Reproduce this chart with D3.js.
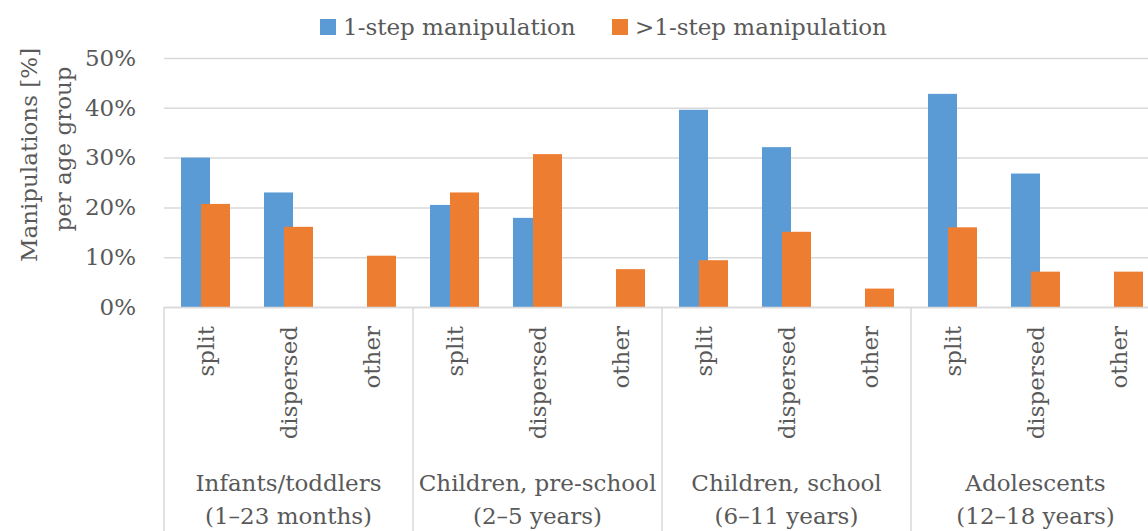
<!DOCTYPE html>
<html>
<head>
<meta charset="utf-8">
<script src="https://cdn.jsdelivr.net/npm/d3@7"></script>
<style>
  html, body { margin: 0; padding: 0; background: #fff; }
  svg { display: block; }
  text { font-family: "DejaVu Serif", "Liberation Serif", serif; fill: #595959; }
</style>
</head>
<body>
<svg id="chart" width="1148" height="531"></svg>
<script>
// ---- data ----
const groupLine1 = ["Infants/toddlers", "Children, pre-school", "Children, school", "Adolescents"];
const groupLine2 = ["(1–23 months)", "(2–5 years)", "(6–11 years)", "(12–18 years)"];
const subcats = ["split", "dispersed", "other"];
const seriesNames = ["1-step manipulation", ">1-step manipulation"];
// values in %, order: group x subcat
const oneStep   = [30.0, 23.0, 0,   20.5, 17.9, 0,   39.6, 32.1, 0,   42.8, 26.8, 0];
const multiStep = [20.7, 16.1, 10.3, 23.0, 30.7, 7.6, 9.4, 15.1, 3.7, 16.0, 7.1, 7.1];
const yTicks = [0, 10, 20, 30, 40, 50];

(function () {
// ---- layout ----
const svg = d3.select("#chart");
const plotLeft = 164, plotTop = 58, plotBottom = 307;
const groupW = 249;
const colors = ["#5B9BD5", "#ED7D31"];
const fs = 23;

const y = d3.scaleLinear().domain([0, 50]).range([plotBottom, plotTop]);
const xg = d3.scaleBand().domain(d3.range(groupLine1.length)).range([plotLeft, plotLeft + groupW * groupLine1.length]).padding(0);
const xs = d3.scaleBand().domain(subcats).range([0, groupW]).padding(0);
const barW = 29, overlap = 9;

// gridlines
const yAxis = d3.axisLeft(y).tickValues(yTicks).tickFormat(d => d + "%").tickSize(-(1148 - plotLeft)).tickPadding(28);
const ga = svg.append("g").attr("transform", `translate(${plotLeft},0)`).call(yAxis);
ga.select(".domain").remove();
ga.selectAll(".tick line").attr("stroke", "#d9d9d9").attr("stroke-width", 1.5);
ga.selectAll(".tick text").style("font-size", fs + "px").attr("fill", "#595959")
  .style("font-family", '"DejaVu Serif", serif');

// data rows
const rows = [];
groupLine1.forEach((g, gi) => {
  subcats.forEach((s, si) => {
    const idx = gi * subcats.length + si;
    rows.push({ gi, s, v: [oneStep[idx], multiStep[idx]] });
  });
});

// bars
[0, 1].forEach(k => {
  svg.append("g").selectAll("rect").data(rows.filter(r => r.v[k] > 0)).join("rect")
    .attr("x", r => {
      const c = xg(r.gi) + xs(r.s) + xs.bandwidth() / 2;
      return k === 0 ? c - (2 * barW - overlap) / 2 : c - (2 * barW - overlap) / 2 + barW - overlap;
    })
    .attr("width", barW)
    .attr("y", r => y(r.v[k]))
    .attr("height", r => y(0) - y(r.v[k]))
    .attr("fill", colors[k]);
});

// x axis line + separators
svg.append("line").attr("x1", plotLeft).attr("x2", 1148).attr("y1", plotBottom + 0.5).attr("y2", plotBottom + 0.5)
  .attr("stroke", "#d9d9d9").attr("stroke-width", 1.5);
const seps = d3.range(groupLine1.length + 1).map(i => plotLeft + i * groupW);
svg.append("g").selectAll("line").data(seps).join("line")
  .attr("x1", d => d).attr("x2", d => d).attr("y1", plotBottom).attr("y2", 531)
  .attr("stroke", "#d9d9d9").attr("stroke-width", 1.5);

// subcategory labels (rotated)
svg.append("g").selectAll("text").data(rows).join("text")
  .attr("transform", r => `translate(${xg(r.gi) + xs(r.s) + xs.bandwidth() / 2},326) rotate(-90)`)
  .attr("text-anchor", "end").attr("dy", "0.36em")
  .style("font-size", fs + "px")
  .text(r => r.s);

// group labels
const gl = svg.append("g").selectAll("g").data(groupLine1).join("g")
  .attr("transform", (d, i) => `translate(${xg(i) + groupW / 2},0)`);
gl.append("text").attr("y", 491).attr("text-anchor", "middle").style("font-size", fs + "px").text(d => d);
gl.append("text").attr("y", 524).attr("text-anchor", "middle").style("font-size", fs + "px").text((d, i) => groupLine2[i]);

// y axis title
svg.append("text").attr("transform", "translate(37,155) rotate(-90)").attr("text-anchor", "middle")
  .style("font-size", fs + "px").text("Manipulations [%]");
svg.append("text").attr("transform", "translate(71,149) rotate(-90)").attr("text-anchor", "middle")
  .style("font-size", fs + "px").text("per age group");

// legend
const legX = [320, 612];
const lg = svg.append("g").selectAll("g").data(seriesNames).join("g")
  .attr("transform", (d, i) => `translate(${legX[i]},0)`);
lg.append("rect").attr("x", 0).attr("y", 19).attr("width", 16).attr("height", 16).attr("fill", (d, i) => colors[i]);
lg.append("text").attr("x", 23).attr("y", 35).style("font-size", fs + "px").text(d => d);
})();
</script>
</body>
</html>
